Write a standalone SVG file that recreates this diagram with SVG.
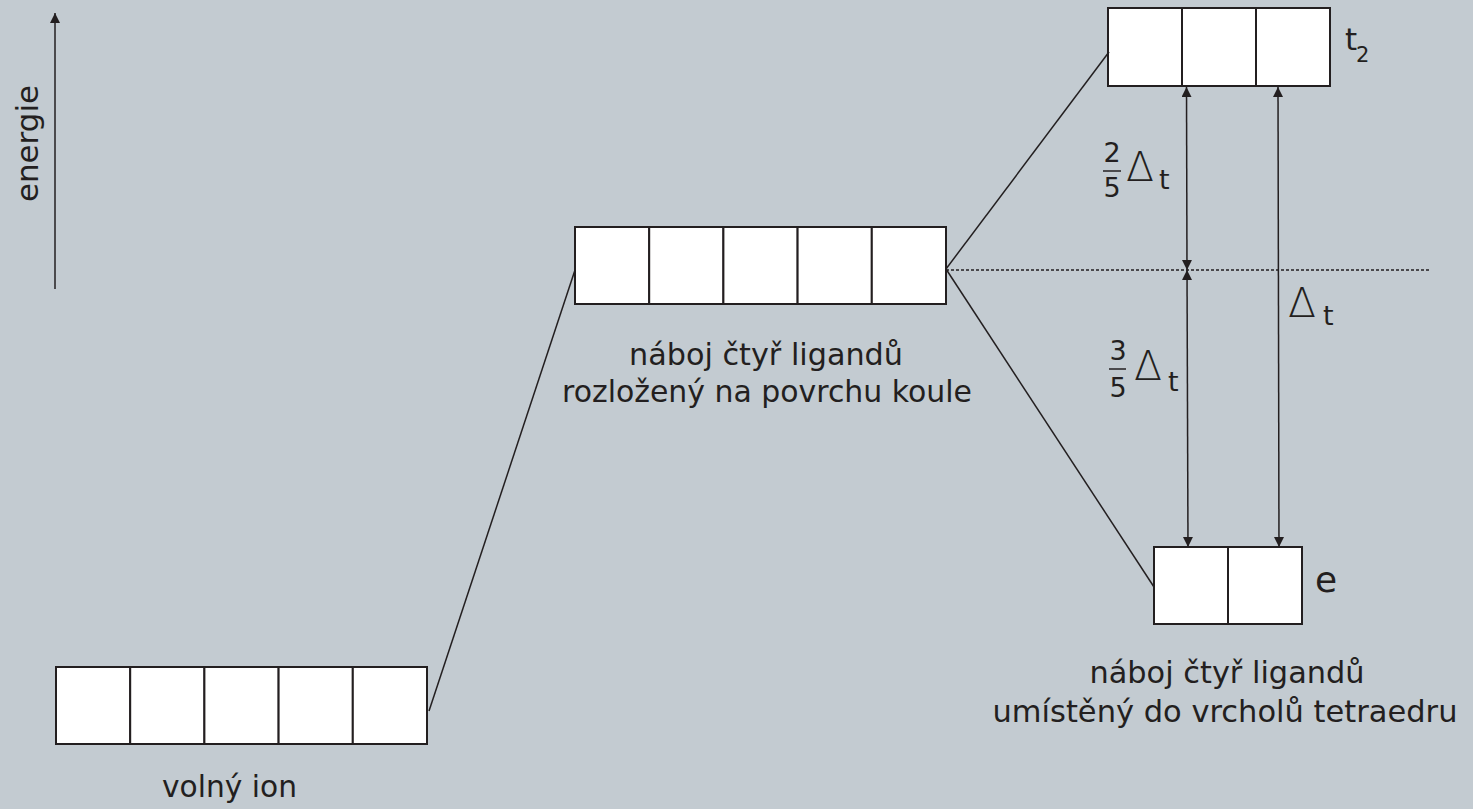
<svg xmlns="http://www.w3.org/2000/svg" width="1473" height="809" viewBox="0 0 1473 809">
  <defs>
    <marker id="head" viewBox="0 0 10 10" refX="10" refY="5" markerWidth="10" markerHeight="10" markerUnits="userSpaceOnUse" orient="auto-start-reverse">
      <path d="M0,0 L10,5 L0,10 Z" fill="#231f20"/>
    </marker>
    <style>
      .cell { fill: #ffffff; stroke: #231f20; stroke-width: 2; }
      .wire { stroke: #231f20; stroke-width: 1.5; fill: none; }
      .dots { stroke: #231f20; stroke-width: 1.5; stroke-dasharray: 3 2; fill: none; }
      .lbl { font-family: "DejaVu Sans", "Liberation Sans", sans-serif; font-size: 31px; fill: #231f20; }
      .sym { font-family: "DejaVu Sans", "Liberation Sans", sans-serif; fill: #231f20; }
      .delta { font-family: "DejaVu Sans", "Liberation Sans", sans-serif; font-weight: 200; font-size: 41px; fill: #231f20; }
    </style>
  </defs>

  <rect x="0" y="0" width="1473" height="809" fill="#c3cbd1"/>

  <!-- energy axis -->
  <g id="energy-axis">
    <line class="wire" x1="55" y1="289" x2="55" y2="13" marker-end="url(#head)"/>
    <text class="lbl" transform="translate(38,143.5) rotate(-90)" text-anchor="middle" textLength="117" lengthAdjust="spacingAndGlyphs">energie</text>
  </g>

  <!-- free ion: five degenerate d orbitals -->
  <g id="free-ion">
    <rect class="cell" x="56" y="667" width="74.2" height="77"/>
    <rect class="cell" x="130.2" y="667" width="74.2" height="77"/>
    <rect class="cell" x="204.4" y="667" width="74.2" height="77"/>
    <rect class="cell" x="278.6" y="667" width="74.2" height="77"/>
    <rect class="cell" x="352.8" y="667" width="74.2" height="77"/>
    <text class="lbl" x="229.5" y="797" text-anchor="middle" textLength="135" lengthAdjust="spacingAndGlyphs">volný ion</text>
  </g>

  <!-- spherical field: five orbitals raised -->
  <g id="spherical">
    <rect class="cell" x="575" y="227" width="74.2" height="77"/>
    <rect class="cell" x="649.2" y="227" width="74.2" height="77"/>
    <rect class="cell" x="723.4" y="227" width="74.2" height="77"/>
    <rect class="cell" x="797.6" y="227" width="74.2" height="77"/>
    <rect class="cell" x="871.8" y="227" width="74.2" height="77"/>
    <text class="lbl" x="766" y="365" text-anchor="middle" textLength="274" lengthAdjust="spacingAndGlyphs">náboj čtyř ligandů</text>
    <text class="lbl" x="767" y="402" text-anchor="middle" textLength="410" lengthAdjust="spacingAndGlyphs">rozložený na povrchu koule</text>
  </g>

  <!-- t2 level -->
  <g id="t2">
    <rect class="cell" x="1108" y="8" width="74" height="78"/>
    <rect class="cell" x="1182" y="8" width="74" height="78"/>
    <rect class="cell" x="1256" y="8" width="74" height="78"/>
    <text class="sym" x="1345" y="50" font-size="31">t</text>
    <text class="sym" x="1356" y="62" font-size="21">2</text>
  </g>

  <!-- e level -->
  <g id="e">
    <rect class="cell" x="1154" y="547" width="74" height="77"/>
    <rect class="cell" x="1228" y="547" width="74" height="77"/>
    <text class="sym" x="1315" y="592" font-size="36">e</text>
    <text class="lbl" x="1227" y="683" text-anchor="middle" textLength="275" lengthAdjust="spacingAndGlyphs">náboj čtyř ligandů</text>
    <text class="lbl" x="1225" y="722" text-anchor="middle" textLength="465" lengthAdjust="spacingAndGlyphs">umístěný do vrcholů tetraedru</text>
  </g>

  <!-- splitting labels -->
  <g id="split-labels">
    <g id="two-fifths">
      <text class="sym" x="1112" y="162" font-size="27" text-anchor="middle">2</text>
      <line x1="1103" y1="171" x2="1121" y2="171" stroke="#231f20" stroke-width="1.5"/>
      <text class="sym" x="1112" y="197" font-size="27" text-anchor="middle">5</text>
      <text class="delta" x="1126" y="181">Δ</text>
      <text class="sym" x="1159" y="189" font-size="27">t</text>
    </g>
    <g id="three-fifths">
      <text class="sym" x="1118" y="360" font-size="27" text-anchor="middle">3</text>
      <line x1="1109" y1="369" x2="1126" y2="369" stroke="#231f20" stroke-width="1.5"/>
      <text class="sym" x="1118" y="397" font-size="27" text-anchor="middle">5</text>
      <text class="delta" x="1134" y="380">Δ</text>
      <text class="sym" x="1168" y="391" font-size="27">t</text>
    </g>
    <g id="delta-total">
      <text class="delta" x="1288" y="317">Δ</text>
      <text class="sym" x="1323" y="325" font-size="27">t</text>
    </g>
  </g>

  <!-- connectors -->
  <g id="connectors">
    <line class="wire" x1="429" y1="711" x2="575" y2="270"/>
    <line class="wire" x1="946" y1="269" x2="1109" y2="52"/>
    <line class="wire" x1="946" y1="269" x2="1154" y2="587"/>
    <line class="dots" x1="946" y1="270" x2="1429" y2="270"/>
    <line class="wire" x1="1186.5" y1="87" x2="1187" y2="270" marker-start="url(#head)" marker-end="url(#head)"/>
    <line class="wire" x1="1187" y1="270" x2="1188" y2="547" marker-start="url(#head)" marker-end="url(#head)"/>
    <line class="wire" x1="1278" y1="87" x2="1279" y2="547" marker-start="url(#head)" marker-end="url(#head)"/>
  </g>
</svg>
